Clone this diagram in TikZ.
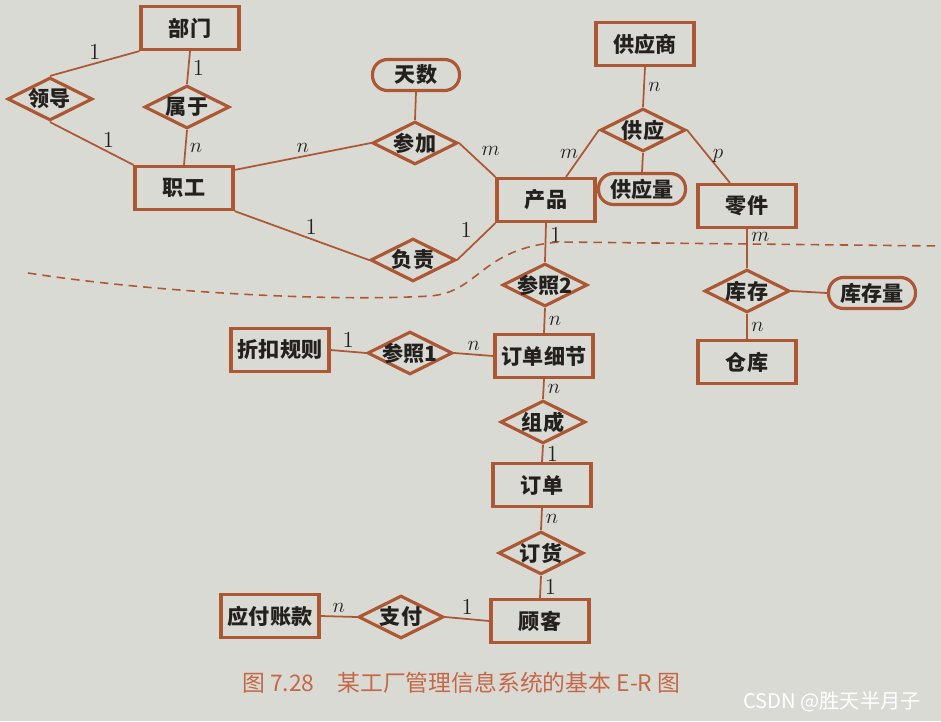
\documentclass[tikz,border=0pt]{standalone}
\usepackage{fontspec}
\usetikzlibrary{shapes.geometric}
\newfontfamily\cjk{Noto Sans CJK SC}
\definecolor{erline}{RGB}{172,88,52}
\definecolor{paper}{RGB}{218,218,213}
\definecolor{ink}{RGB}{35,32,30}
\definecolor{capred}{RGB}{196,104,72}
\tikzset{
  entity/.style={draw=erline, line width=1.8pt, minimum width=1.96cm, minimum height=0.86cm,
    inner sep=0pt, text=ink, font=\cjk\bfseries\fontsize{12}{14}\selectfont},
  relation/.style={diamond, aspect=2, draw=erline, line width=1.8pt, minimum width=1.7cm,
    minimum height=0.86cm, inner sep=0pt, text=ink, font=\cjk\bfseries\fontsize{12}{14}\selectfont},
  attrib/.style={draw=erline, line width=1.8pt, rounded corners=0.3cm, minimum width=1.74cm,
    minimum height=0.62cm, inner sep=0pt, text=ink, font=\cjk\bfseries\fontsize{12}{14}\selectfont},
  link/.style={draw=erline, line width=1pt},
  card/.style={text=ink, font=\fontsize{13}{15}\selectfont, inner sep=2pt}
}

\begin{document}
\begin{tikzpicture}[x=0.02cm, y=-0.02cm]
  \fill[paper] (0,0) rectangle (941,721);
  \useasboundingbox (0,0) rectangle (941,721);

  % entities
  \node[entity] (bumen) at (190,28) {部门};
  \node[entity] (zhigong) at (184,188) {职工};
  \node[entity] (gongyingshang) at (645,44) {供应商};
  \node[entity] (chanpin) at (546,200) {产品};
  \node[entity] (lingjian) at (747,206) {零件};
  \node[entity] (zhekou) at (280,350) {折扣规则};
  \node[entity] (xijie) at (544,356) {订单细节};
  \node[entity] (cangku) at (747,362) {仓库};
  \node[entity] (dingdan) at (542,485) {订单};
  \node[entity] (guke) at (540,621) {顾客};
  \node[entity] (yingfu) at (270,616) {应付账款};

  % relationships
  \node[relation] (lingdao) at (50,99) {领导};
  \node[relation] (shuyu) at (187,107) {属于};
  \node[relation] (canjia) at (415,143) {参加};
  \node[relation] (fuze) at (413,260) {负责};
  \node[relation] (gongying) at (643,130) {供应};
  \node[relation] (canzhaoB) at (545,285) {\makebox[0.85cm]{参照2}};
  \node[relation] (kucun) at (747,291) {库存};
  \node[relation] (canzhaoA) at (410,353) {\makebox[0.85cm]{参照1}};
  \node[relation] (zucheng) at (543,422) {组成};
  \node[relation] (dinghuo) at (541,553) {订货};
  \node[relation] (zhifu) at (401,617) {支付};

  % attributes
  \node[attrib] (tianshu) at (416,75) {天数};
  \node[attrib] (gongyingliang) at (642,189) {供应量};
  \node[attrib] (kucunliang) at (872,293) {库存量};

  % connectors
  \draw[link] (bumen.south west) -- (lingdao.north) node[midway, above, card] {1};
  \draw[link] (bumen.south) -- (shuyu.north) node[midway, right, card] {1};
  \draw[link] (lingdao.south) -- (zhigong.north west) node[pos=0.7, above, card] {1};
  \draw[link] (shuyu.south) -- (zhigong.north) node[midway, right, card] {$n$};
  \draw[link] ([yshift=-0.1cm]zhigong.north east) -- (canjia.west) node[midway, above, card] {$n$};
  \draw[link] (zhigong.south east) -- (fuze.west) node[pos=0.57, above, card] {1};
  \draw[link] (tianshu.south) -- (canjia.north);
  \draw[link] (canjia.east) -- (chanpin.north west) node[midway, above right, card] {$m$};
  \draw[link] (fuze.east) -- (chanpin.south west) node[midway, above left, card] {1};
  \draw[link] (gongyingshang.south) -- (gongying.north) node[midway, right, card] {$n$};
  \draw[link] (gongying.west) -- ([xshift=0.4cm]chanpin.north) node[midway, left, card] {$m$};
  \draw[link] (gongying.east) -- ([xshift=-0.34cm]lingjian.north) node[midway, right, card] {$p$};
  \draw[link] (gongying.south) -- (gongyingliang.north);
  \draw[link] (chanpin.south) -- (canzhaoB.north) node[pos=0.3, right, card] {1};
  \draw[link] (lingjian.south) -- (kucun.north) node[pos=0.2, right, card] {$m$};
  \draw[link] (kucun.east) -- (kucunliang.west);
  \draw[link] (kucun.south) -- (cangku.north) node[midway, right, card] {$n$};
  \draw[link] (zhekou.east) -- (canzhaoA.west) node[midway, above, card] {1};
  \draw[link] (canzhaoA.east) -- (xijie.west) node[midway, above, card] {$n$};
  \draw[link] (canzhaoB.south) -- (xijie.north) node[midway, right, card] {$n$};
  \draw[link] (xijie.south) -- (zucheng.north) node[midway, right, card] {$n$};
  \draw[link] (zucheng.south) -- (dingdan.north) node[midway, right, card] {1};
  \draw[link] (dingdan.south) -- (dinghuo.north) node[midway, right, card] {$n$};
  \draw[link] (dinghuo.south) -- (guke.north) node[midway, right, card] {1};
  \draw[link] (yingfu.east) -- (zhifu.west) node[midway, above, card] {$n$};
  \draw[link] (zhifu.east) -- (guke.west) node[midway, above, card] {1};

  % boundary
  \draw[erline, line width=0.9pt, dash pattern=on 0.17cm off 0.12cm]
    (28,273) .. controls (150,292) and (330,302) .. (430,296)
    .. controls (480,292) and (480,248) .. (560,242) -- (941,246);

  \node[anchor=west, text=capred, font=\cjk\fontsize{13}{15}\selectfont] (caption) at (236,683)
    {图 7.28\quad 某工厂管理信息系统的基本 E-R 图};
  \node[anchor=east, text=white, font=\cjk\fontsize{11.5}{13}\selectfont] (mark) at (927,702)
    {CSDN @胜天半月子};
\end{tikzpicture}
\end{document}
